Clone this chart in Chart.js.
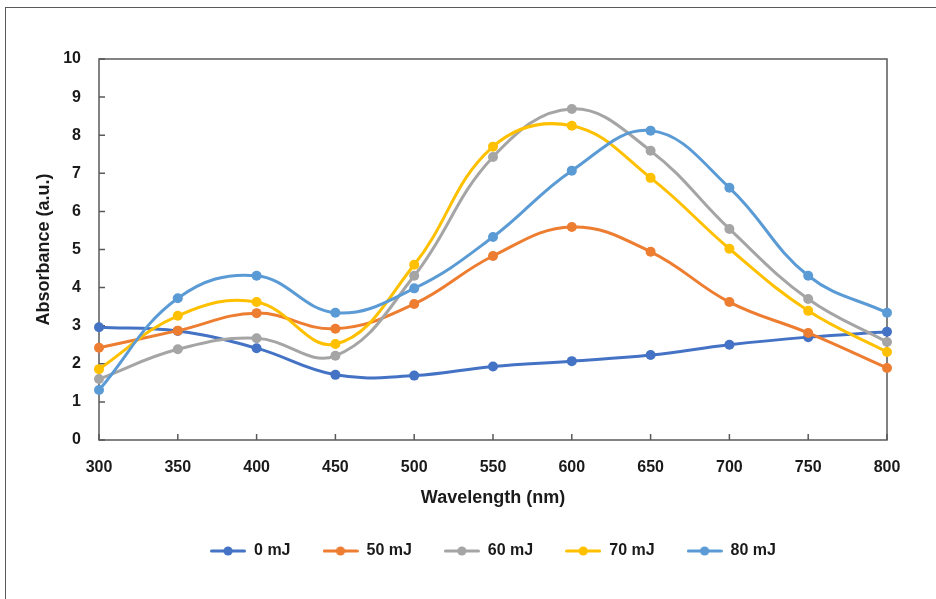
<!DOCTYPE html>
<html>
<head>
<meta charset="utf-8">
<script src="https://cdn.jsdelivr.net/npm/chart.js@4.4.1/dist/chart.umd.min.js"></script>
<style>
  html, body { margin: 0; padding: 0; background: #fff; }
  #wrap { position: relative; width: 936px; height: 599px; overflow: hidden; }
  #frame { position: absolute; left: 5px; top: 7px; width: 960px; height: 620px;
           border: 1px solid #5a5a5a; box-shadow: 1px 1px 1px #9a9a9a; }
  canvas { position: absolute; left: 0; top: 0; }
</style>
</head>
<body>
<div id="wrap">
  <div id="frame"></div>
  <canvas id="c" width="936" height="599"></canvas>
</div>
<script>
const wavelengths = [300, 350, 400, 450, 500, 550, 600, 650, 700, 750, 800];
const seriesNames = ['0 mJ', '50 mJ', '60 mJ', '70 mJ', '80 mJ'];
const seriesColors = ['#4472C4', '#ED7D31', '#A5A5A5', '#FFC000', '#5B9BD5'];
const abs0 = [2.96, 2.86, 2.41, 1.71, 1.69, 1.93, 2.07, 2.23, 2.50, 2.70, 2.84];
const abs50 = [2.42, 2.87, 3.33, 2.92, 3.57, 4.83, 5.59, 4.94, 3.62, 2.81, 1.89];
const abs60 = [1.60, 2.38, 2.67, 2.21, 4.31, 7.43, 8.69, 7.59, 5.54, 3.70, 2.57];
const abs70 = [1.86, 3.26, 3.62, 2.52, 4.60, 7.70, 8.25, 6.88, 5.02, 3.39, 2.31];
const abs80 = [1.31, 3.72, 4.31, 3.34, 3.98, 5.33, 7.07, 8.12, 6.62, 4.31, 3.34];
const yTicks = [0, 1, 2, 3, 4, 5, 6, 7, 8, 9, 10];
const xTitle = 'Wavelength (nm)';
const yTitle = 'Absorbance (a.u.)';

const allValues = [abs0, abs50, abs60, abs70, abs80];
const FONT = "'Liberation Sans', Arial, sans-serif";
const TEXT = '#1a1a1a';
const AXIS = '#595959';

function legendIcon(color) {
  const cv = document.createElement('canvas');
  cv.width = 36; cv.height = 12;
  const g = cv.getContext('2d');
  g.strokeStyle = color; g.lineWidth = 3; g.lineCap = 'round';
  g.beginPath(); g.moveTo(1.5, 6); g.lineTo(34.5, 6); g.stroke();
  g.fillStyle = color;
  g.beginPath(); g.arc(18, 6, 4.6, 0, Math.PI * 2); g.fill();
  return cv;
}

const datasets = seriesNames.map((name, i) => ({
  label: name,
  data: wavelengths.map((w, j) => ({ x: w, y: allValues[i][j] })),
  borderColor: seriesColors[i],
  backgroundColor: seriesColors[i],
  borderWidth: 3,
  pointRadius: 5,
  pointHoverRadius: 5,
  pointBorderWidth: 0,
  tension: 0.4,
  fill: false,
  clip: false,
  order: seriesNames.length - i
}));

const frameBox = {
  id: 'frameBox',
  beforeDatasetsDraw(chart) {
    const { ctx, chartArea: a, scales } = chart;
    ctx.save();
    ctx.strokeStyle = AXIS;
    ctx.lineWidth = 1.5;
    ctx.strokeRect(a.left, a.top, a.right - a.left, a.bottom - a.top);
    ctx.beginPath();
    scales.x.ticks.forEach(t => {
      const px = scales.x.getPixelForValue(t.value);
      ctx.moveTo(px, a.bottom); ctx.lineTo(px, a.bottom - 6);
    });
    scales.y.ticks.forEach(t => {
      const py = scales.y.getPixelForValue(t.value);
      ctx.moveTo(a.left, py); ctx.lineTo(a.left + 6, py);
    });
    ctx.stroke();
    ctx.restore();
  }
};

new Chart(document.getElementById('c'), {
  type: 'line',
  data: { datasets },
  plugins: [frameBox],
  options: {
    responsive: false,
    animation: false,
    events: [],
    layout: { padding: { left: 33, right: 49, top: 59, bottom: 30 } },
    scales: {
      x: {
        type: 'linear',
        min: 300, max: 800,
        afterBuildTicks: s => { s.ticks = wavelengths.map(v => ({ value: v })); },
        afterFit: s => { s.height = 71; },
        grid: { display: false, drawTicks: false },
        border: { display: false },
        ticks: { padding: 18, color: TEXT, font: { family: FONT, size: 16, weight: 'bold' }, maxRotation: 0, autoSkip: false },
        title: { display: true, text: xTitle, color: TEXT, padding: { top: 0, bottom: 2 },
                 font: { family: FONT, size: 18, weight: 'bold' } }
      },
      y: {
        min: 0, max: 10,
        afterBuildTicks: s => { s.ticks = yTicks.map(v => ({ value: v })); },
        afterFit: s => { s.width = 66; },
        grid: { display: false, drawTicks: false },
        border: { display: false },
        ticks: { padding: 18, color: TEXT, font: { family: FONT, size: 16, weight: 'bold' } },
        title: { display: true, text: yTitle, color: TEXT, padding: { top: 0, bottom: 0 },
                 font: { family: FONT, size: 18, weight: 'bold' } }
      }
    },
    plugins: {
      tooltip: { enabled: false },
      legend: {
        position: 'bottom',
        fullSize: false,
        labels: {
          usePointStyle: true,
          pointStyleWidth: 36,
          padding: 32,
          color: TEXT,
          font: { family: FONT, size: 16, weight: 'bold' },
          generateLabels: chart => chart.data.datasets.map((d, i) => ({
            text: d.label,
            pointStyle: legendIcon(seriesColors[i]),
            fillStyle: seriesColors[i],
            strokeStyle: seriesColors[i],
            lineWidth: 0,
            hidden: false,
            datasetIndex: i,
            fontColor: TEXT
          }))
        }
      }
    }
  }
});
</script>
</body>
</html>
